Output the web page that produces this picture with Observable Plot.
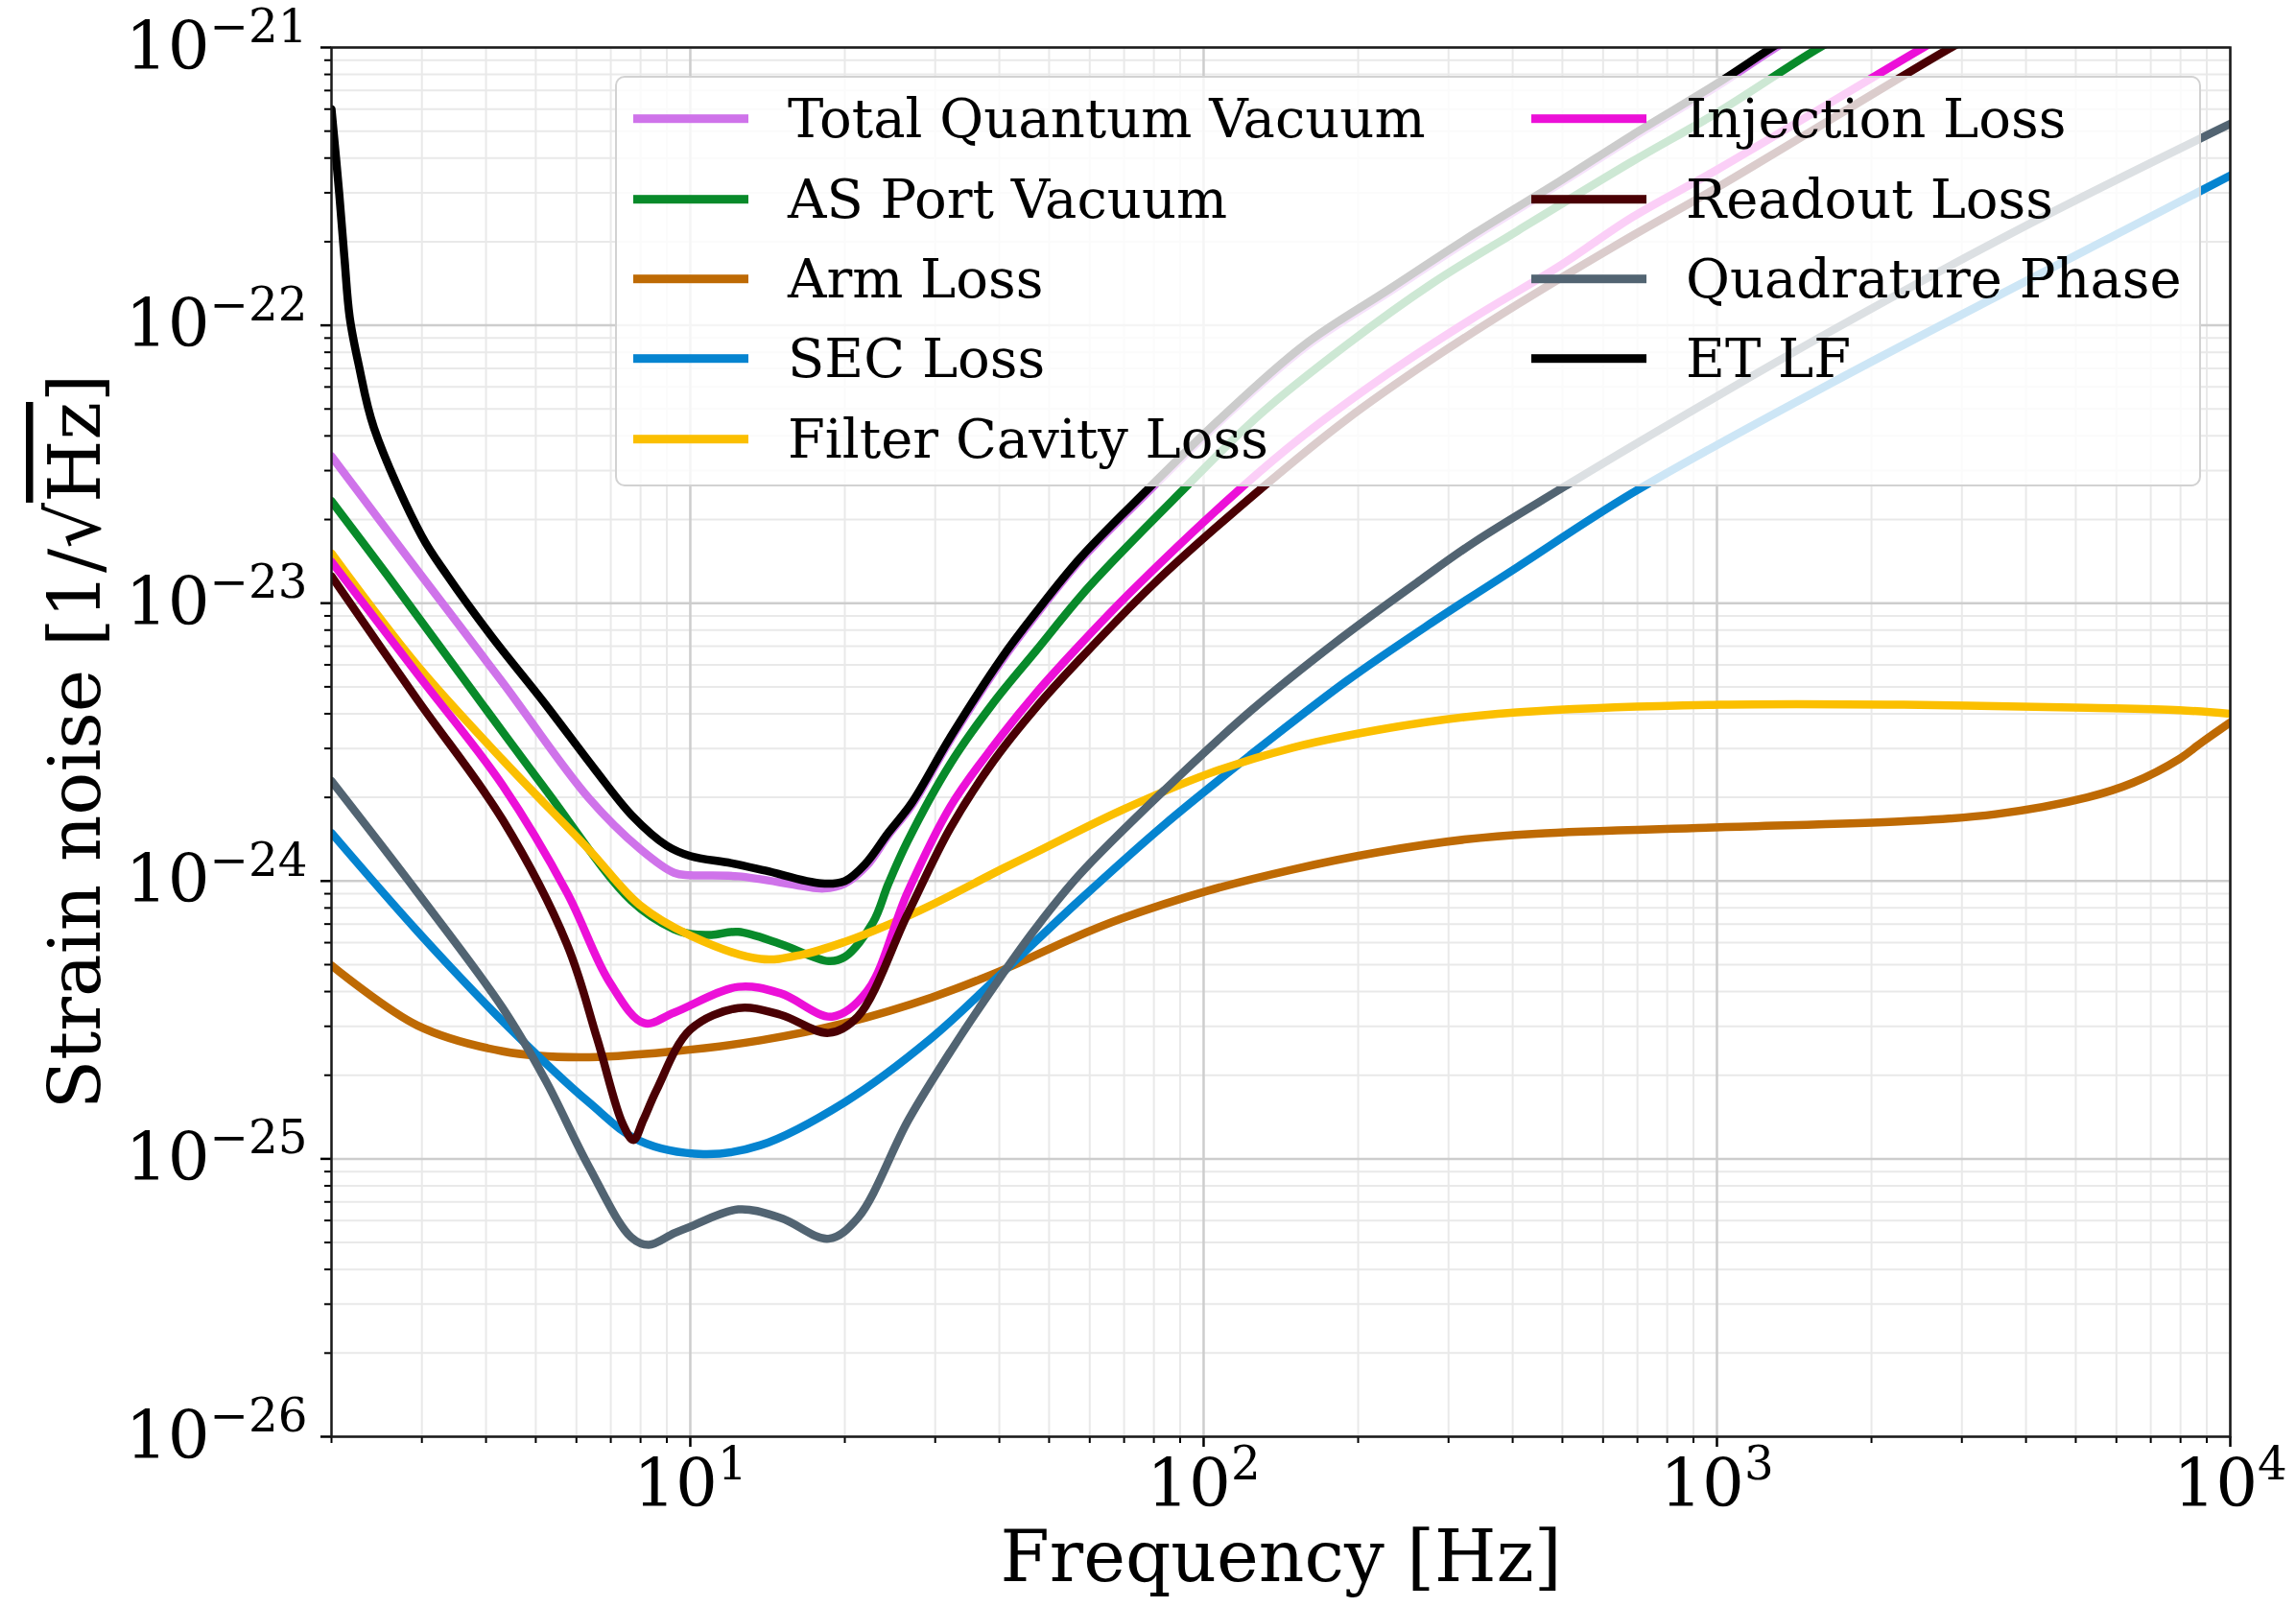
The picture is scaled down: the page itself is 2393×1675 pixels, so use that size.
<!DOCTYPE html>
<html>
<head>
<meta charset="utf-8">
<script src="https://cdn.jsdelivr.net/npm/d3@7"></script>
<script src="https://cdn.jsdelivr.net/npm/@observablehq/plot@0.6"></script>
<style>
  html, body { margin: 0; padding: 0; background: #fff; }
  #wrap { position: relative; width: 2393px; height: 1675px; font-family: "DejaVu Serif", serif; }
  #wrap svg { position: absolute; left: 0; top: 0; }
  #legend { position: absolute; left: 641px; top: 79px; width: 1653px; height: 428px; box-sizing: border-box;
            background: rgba(255,255,255,0.8); border: 2.5px solid #d2d2d2; border-radius: 10px; }
  .item { position: absolute; display: flex; align-items: center; font-size: 56px; color: #000; white-space: nowrap;
          transform: translateY(-50%); line-height: 1.1; }
  .item .sw { width: 120px; height: 9px; margin-right: 41px; flex: none; }
</style>
</head>
<body>
<div id="wrap"><div id="legend"></div></div>
<script>
// ---- Data ----
const seriesNames = ["Total Quantum Vacuum", "AS Port Vacuum", "Arm Loss", "SEC Loss", "Filter Cavity Loss",
                     "Injection Loss", "Readout Loss", "Quadrature Phase", "ET LF"];
const seriesColors = ["#cf73ea", "#088a2a", "#be6a04", "#0584d0", "#fbbf00", "#ec10d8", "#4a0004", "#526472", "#000000"];

const totalF = [2, 2.99, 4.31, 6.34, 8, 9.3, 10, 12.4, 16.5, 18.2, 20, 22.1, 24.3, 27, 32, 40.3, 47, 57.6, 78, 107, 157, 230, 337, 495, 684, 1000, 1280, 1500];
const totalH = [3.38e-23, 1.26e-23, 5.18e-24, 1.99e-24, 1.30e-24, 1.07e-24, 1.05e-24, 1.04e-24, 9.6e-25, 9.4e-25, 9.8e-25, 1.14e-24, 1.46e-24, 1.87e-24, 3.19e-24, 6.15e-24, 9.0e-24, 1.43e-23, 2.52e-23, 4.46e-23, 8.3e-23, 1.32e-22, 2.09e-22, 3.24e-22, 4.73e-22, 7.25e-22, 9.8e-22, 1.17e-21];

const asF = [2, 2.57, 3.56, 5.23, 7.67, 9.3, 10, 11, 12.4, 15, 18.6, 20, 22.7, 24.3, 26.5, 32.1, 38.9, 47.2, 59.9, 91.4, 129, 190, 278, 409, 684, 1000, 1585, 1800];
const asH = [2.33e-23, 1.26e-23, 5.56e-24, 2.13e-24, 8.5e-25, 6.7e-25, 6.45e-25, 6.4e-25, 6.56e-25, 5.93e-25, 5.15e-25, 5.33e-25, 7.1e-25, 9.75e-25, 1.39e-24, 2.64e-24, 4.37e-24, 6.76e-24, 1.15e-23, 2.57e-23, 4.79e-23, 8.51e-23, 1.41e-22, 2.19e-22, 3.89e-22, 5.82e-22, 1.0e-21, 1.13e-21];

const armF = [2, 2.94, 4.31, 6.09, 9.3, 13.7, 20, 29.5, 40.7, 55, 69.3, 102, 149, 219, 322, 445, 1014, 2311, 3490, 5267, 6470, 7955, 8810, 10000];
const armH = [4.97e-25, 3.02e-25, 2.44e-25, 2.32e-25, 2.44e-25, 2.67e-25, 3.08e-25, 3.81e-25, 4.79e-25, 6.17e-25, 7.33e-25, 9.23e-25, 1.10e-24, 1.27e-24, 1.41e-24, 1.48e-24, 1.56e-24, 1.64e-24, 1.74e-24, 2.0e-24, 2.26e-24, 2.75e-24, 3.16e-24, 3.72e-24];

const secF = [2, 2.94, 4.31, 6.34, 7.97, 10.6, 13.7, 20, 29.5, 40.7, 57.2, 84, 123, 190, 278, 409, 684, 1671, 4083, 10000];
const secH = [1.49e-24, 6.6e-25, 3.13e-25, 1.60e-25, 1.16e-25, 1.04e-25, 1.12e-25, 1.60e-25, 2.72e-25, 4.71e-25, 8.5e-25, 1.60e-24, 2.83e-24, 5.25e-24, 8.5e-24, 1.35e-23, 2.49e-23, 6.2e-23, 1.47e-22, 3.46e-22];

const fcF = [2, 2.94, 4.31, 6.34, 7.97, 10, 13.7, 16.5, 20, 24.3, 29.5, 40.7, 47.2, 69.3, 102, 149, 219, 322, 445, 1014, 2311, 5267, 7955, 10000];
const fcH = [1.51e-23, 5.96e-24, 2.73e-24, 1.30e-24, 8.2e-25, 6.37e-25, 5.24e-25, 5.43e-25, 6.04e-25, 6.96e-25, 8.2e-25, 1.11e-24, 1.27e-24, 1.80e-24, 2.43e-24, 3.02e-24, 3.50e-24, 3.89e-24, 4.09e-24, 4.31e-24, 4.31e-24, 4.2e-24, 4.12e-24, 4.0e-24];

const injF = [2, 2.94, 4.31, 5.75, 6.97, 8.13, 9.3, 12.4, 15, 18.9, 22.1, 26.5, 32.1, 38.9, 47.2, 57.2, 72.6, 117, 157, 230, 337, 495, 684, 1000, 2524, 3000];
const injH = [1.41e-23, 5.56e-24, 2.21e-24, 9.1e-25, 4.31e-25, 3.08e-25, 3.36e-25, 4.16e-25, 3.94e-25, 3.25e-25, 4.01e-25, 9.1e-25, 1.85e-24, 3.05e-24, 4.75e-24, 7.03e-24, 1.11e-23, 2.55e-23, 4.03e-23, 6.75e-23, 1.07e-22, 1.64e-22, 2.45e-22, 3.63e-22, 1.0e-21, 1.2e-21];

const roF = [2, 2.94, 4.31, 5.75, 6.58, 7.38, 7.75, 8.1, 8.61, 10, 12.4, 15, 18.6, 21.2, 26.5, 32.1, 38.9, 47.2, 57.2, 79.8, 129, 190, 278, 409, 684, 1000, 2860, 3300];
const roH = [1.25e-23, 4.49e-24, 1.66e-24, 5.93e-25, 2.72e-25, 1.34e-25, 1.17e-25, 1.38e-25, 1.78e-25, 2.92e-25, 3.49e-25, 3.30e-25, 2.84e-25, 3.25e-25, 7.6e-25, 1.55e-24, 2.69e-24, 4.22e-24, 6.24e-24, 1.17e-23, 2.57e-23, 4.59e-23, 7.53e-23, 1.19e-22, 2.10e-22, 3.13e-22, 1.0e-21, 1.15e-21];

const quadF = [2, 2.94, 4.31, 5.23, 6.34, 7.67, 8.3, 9.3, 10, 12.4, 15, 18.6, 21.2, 26.6, 32.2, 40.5, 47.2, 57.2, 84, 123, 181, 266, 337, 495, 684, 1671, 4083, 10000];
const quadH = [2.29e-24, 9.1e-25, 3.49e-25, 1.91e-25, 9.4e-26, 5.22e-26, 4.9e-26, 5.4e-26, 5.70e-26, 6.58e-26, 6.13e-26, 5.16e-26, 6.13e-26, 1.38e-25, 2.45e-25, 4.6e-25, 6.8e-25, 1.05e-24, 2.13e-24, 4.07e-24, 7.24e-24, 1.22e-23, 1.66e-23, 2.57e-23, 3.68e-23, 9.55e-23, 2.33e-22, 5.31e-22];

const etF = [2, 2.07, 2.12, 2.17, 2.26, 2.42, 3.0, 3.36, 4.1, 5.2, 6.5, 7.7, 9, 10, 12, 14, 18, 20, 22, 24.3, 27, 32, 40.3, 47, 57.6, 78, 107, 157, 230, 337, 495, 684, 1000, 1280, 1500];
const etH = [6.0e-22, 3.0e-22, 1.74e-22, 1.07e-22, 7.2e-23, 4.27e-23, 1.74e-23, 1.26e-23, 7.6e-24, 4.37e-24, 2.54e-24, 1.72e-24, 1.34e-24, 1.23e-24, 1.16e-24, 1.09e-24, 9.8e-25, 1.0e-24, 1.16e-24, 1.49e-24, 1.91e-24, 3.26e-24, 6.3e-24, 9.2e-24, 1.46e-23, 2.58e-23, 4.56e-23, 8.5e-23, 1.35e-22, 2.14e-22, 3.31e-22, 4.84e-22, 7.41e-22, 1.0e-21, 1.2e-21];

// Axis ticks and tick labels
const xMajorTicks = [10, 100, 1000, 10000];
const xTickLabels = ["10|1", "10|2", "10|3", "10|4"];
const yMajorTicks = [1e-26, 1e-25, 1e-24, 1e-23, 1e-22, 1e-21];
const yTickLabels = ["10|\u221226", "10|\u221225", "10|\u221224", "10|\u221223", "10|\u221222", "10|\u221221"];
const xLabel = "Frequency [Hz]";
const yLabel = "Strain noise [1/\u221AHz]";

// ---- Build ----
const seriesF = [totalF, asF, armF, secF, fcF, injF, roF, quadF, etF];
const seriesH = [totalH, asH, armH, secH, fcH, injH, roH, quadH, etH];
const series = seriesNames.map((name, k) => ({
  name, color: seriesColors[k],
  data: seriesF[k].map((f, i) => ({f, h: seriesH[k][i]}))
}));

const minorOf = (lo, hi) => {
  const out = [];
  for (let e = Math.floor(Math.log10(lo)); e <= Math.ceil(Math.log10(hi)); e++)
    for (let m = 2; m <= 9; m++) { const v = m * Math.pow(10, e); if (v >= lo * 0.999 && v <= hi * 1.001) out.push(v); }
  return out;
};
const xMinor = minorOf(2, 1e4);
const yMinor = minorOf(1e-26, 1e-21);
const xFmt = d => xTickLabels[xMajorTicks.indexOf(d)];
const yFmt = d => yTickLabels[yMajorTicks.findIndex(t => Math.abs(Math.log10(t) - Math.log10(d)) < 1e-6)];

const svg = Plot.plot({
  width: 2393, height: 1675,
  marginLeft: 345, marginRight: 69, marginTop: 49, marginBottom: 178,
  x: {type: "log", domain: [2, 1e4]},
  y: {type: "log", domain: [1e-26, 1e-21]},
  style: {fontFamily: "DejaVu Serif", fontSize: "66px", background: "transparent", color: "#000"},
  marks: [
    Plot.gridX(xMinor, {stroke: "#e9e9e9", strokeOpacity: 1, strokeWidth: 2}),
    Plot.gridY(yMinor, {stroke: "#e9e9e9", strokeOpacity: 1, strokeWidth: 2}),
    Plot.gridX(xMajorTicks, {stroke: "#cdcdcd", strokeOpacity: 1, strokeWidth: 2.5}),
    Plot.gridY(yMajorTicks, {stroke: "#cdcdcd", strokeOpacity: 1, strokeWidth: 2.5}),
    ...series.map(s => Plot.line(s.data, {x: "f", y: "h", stroke: s.color, strokeWidth: 8.5, curve: "catmull-rom", clip: true, strokeLinejoin: "round"})),
    Plot.axisX(xMinor, {tickSize: 7, tickFormat: () => "", label: null, strokeWidth: 2}),
    Plot.axisY(yMinor, {tickSize: 7, tickFormat: () => "", label: null, strokeWidth: 2}),
    Plot.axisX(xMajorTicks, {tickSize: 11, tickPadding: 12, tickFormat: xFmt, strokeWidth: 2.5,
                             label: xLabel, labelAnchor: "center", labelArrow: "none", labelOffset: 150, fontSize: 74}),
    Plot.axisY(yMajorTicks, {tickSize: 11, tickPadding: 14, tickFormat: yFmt, strokeWidth: 2.5,
                             label: null}),
    Plot.frame({stroke: "#1a1a1a", strokeWidth: 2.5})
  ]
});
document.getElementById("wrap").prepend(svg);

// superscripts for tick labels
const NS = "http://www.w3.org/2000/svg";
svg.querySelectorAll("text").forEach(t => {
  const s = t.textContent;
  if (s.includes("|")) {
    const [b, e] = s.split("|");
    t.textContent = "";
    const t1 = document.createElementNS(NS, "tspan"); t1.textContent = b;
    const t2 = document.createElementNS(NS, "tspan"); t2.textContent = e;
    t2.setAttribute("font-size", "0.7em"); t2.setAttribute("dy", "-0.57em");
    t.append(t1, t2);
    t.setAttribute("font-size", "69");
  }
});

// y-axis label (rotated) with overline over Hz
const yl = document.createElementNS(NS, "text");
yl.setAttribute("transform", "translate(104,773) rotate(-90)");
yl.setAttribute("text-anchor", "middle");
yl.setAttribute("font-family", "DejaVu Serif");
yl.setAttribute("font-size", "75");
const [pre, post] = yLabel.split("\u221A");
const a = document.createElementNS(NS, "tspan"); a.textContent = pre + "\u221A";
const b = document.createElementNS(NS, "tspan"); b.textContent = post.replace("]", "");
b.setAttribute("text-decoration", "overline"); b.style.textDecoration = "overline";
const c = document.createElementNS(NS, "tspan"); c.textContent = "]";
yl.append(a, b, c);
svg.append(yl);

// legend
const legend = document.getElementById("legend");
const colLeft = [17, 953];
const rowTop = [43, 127, 210, 293, 377];
series.forEach((s, k) => {
  const col = k < 5 ? 0 : 1, row = k < 5 ? k : k - 5;
  const it = document.createElement("div");
  it.className = "item";
  it.style.left = colLeft[col] + "px";
  it.style.top = rowTop[row] + "px";
  const sw = document.createElement("span"); sw.className = "sw"; sw.style.background = s.color;
  const tx = document.createElement("span"); tx.textContent = s.name;
  it.append(sw, tx);
  legend.append(it);
});
</script>
</body>
</html>
